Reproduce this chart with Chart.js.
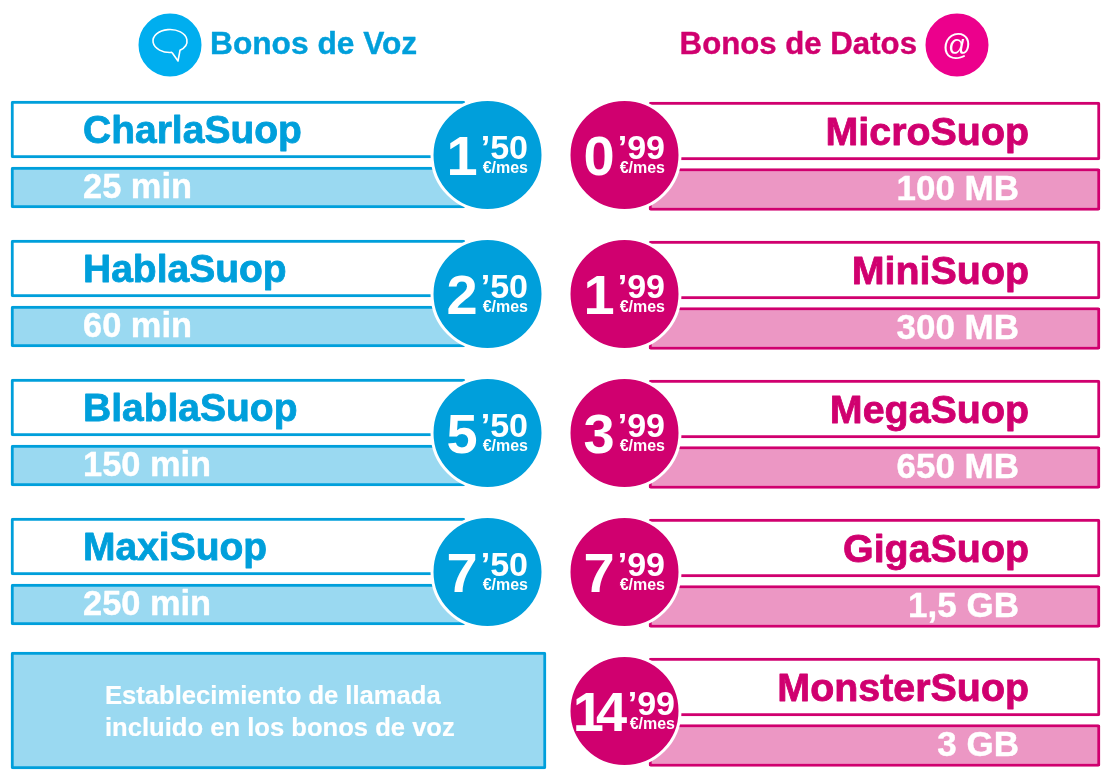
<!DOCTYPE html>
<html lang="es">
<head>
<meta charset="utf-8">
<title>Bonos Suop</title>
<script src="https://cdn.jsdelivr.net/npm/chart.js@4"></script>
<style>
  html, body { margin: 0; padding: 0; background: #fff; }
  canvas { display: block; }
</style>
</head>
<body>
<canvas id="bonos" width="1110" height="780"></canvas>
<script>
// data
const voiceNames = ['CharlaSuop', 'HablaSuop', 'BlablaSuop', 'MaxiSuop'];
const voiceQuotas = ['25 min', '60 min', '150 min', '250 min'];
const voiceEuros = ['1', '2', '5', '7'];
const voiceCents = ['50', '50', '50', '50'];
const voiceRows = [0, 1, 2, 3];

const dataNames = ['MicroSuop', 'MiniSuop', 'MegaSuop', 'GigaSuop', 'MonsterSuop'];
const dataQuotas = ['100 MB', '300 MB', '650 MB', '1,5 GB', '3 GB'];
const dataEuros = ['0', '1', '3', '7', '14'];
const dataCents = ['99', '99', '99', '99', '99'];
const dataRows = [0, 1, 2, 3, 4];

const noteLines = ['Establecimiento de llamada', 'incluido en los bonos de voz'];
const headerVoice = 'Bonos de Voz';
const headerData = 'Bonos de Datos';

// colours
const BLUE = '#009fdb', BLUE_HEAD = '#00aeef', BLUE_LIGHT = '#9ad9f1';
const PINK = '#d0006f', PINK_HEAD = '#ec008c', PINK_LIGHT = '#ec97c4';
const FONT = '"Liberation Sans", Arial, sans-serif';

// layout: y axis runs in rows, one row is 139px and row 0 sits on y=155
const ROW = 139;
const px = d => d / ROW;
const offsets = { voiceName: px(-25.5), voiceQuota: px(32.5), dataName: px(-24), dataQuota: px(34.5), note: px(-0.5) };
const headerRow = px(45 - 155);

function bars(rows, from, to, offset, thickness, fill, line) {
  return {
    type: 'bar', indexAxis: 'y', grouped: false, order: 2,
    data: rows.map(r => ({ x: [from, to], y: r + offset })),
    barThickness: thickness,
    backgroundColor: fill, borderColor: line, borderWidth: 3,
    borderSkipped: false, borderRadius: 2
  };
}

function dots(rows, cx, radius, fill, ring) {
  return {
    type: 'scatter', order: 1, clip: false,
    data: rows.map(r => ({ x: cx, y: r })),
    pointRadius: radius, pointHoverRadius: radius,
    pointBackgroundColor: fill, pointBorderColor: ring, pointBorderWidth: 3
  };
}

// text and the two header icons go on top of the marks
function put(ctx, text, x, y, font, color, align, halo) {
  ctx.font = font;
  ctx.textAlign = align || 'left';
  ctx.textBaseline = 'alphabetic';
  ctx.fillStyle = color;
  if (halo) {
    ctx.strokeStyle = color;
    ctx.lineWidth = halo;
    ctx.lineJoin = 'round';
    ctx.strokeText(text, x, y);
  }
  ctx.fillText(text, x, y);
}

function drawPrice(ctx, euros, cents, right, cy) {
  const wide = euros.length > 1;
  const end = wide ? right + 10 : right;
  ctx.letterSpacing = wide ? '-8px' : '0px';
  put(ctx, euros, wide ? right - 69 : right - 66, cy + 20, 'bold 56px ' + FONT, '#fff', 'center');
  ctx.letterSpacing = '0px';
  put(ctx, '’' + cents, end, cy + 4, 'bold 34px ' + FONT, '#fff', 'right');
  put(ctx, '€/mes', end, cy + 18, 'bold 16px ' + FONT, '#fff', 'right');
}

const labelsPlugin = {
  id: 'labels',
  afterDatasetsDraw(chart) {
    const { ctx, scales: { x, y } } = chart;
    ctx.save();

    voiceRows.forEach(r => {
      const cy = y.getPixelForValue(r);
      const left = x.getPixelForValue(83);
      put(ctx, voiceNames[r], left, cy - 12, 'bold 39px ' + FONT, BLUE, 'left', 0.8);
      put(ctx, voiceQuotas[r], left, cy + 43, 'bold 34.4px ' + FONT, '#fff', 'left', 0.4);
      drawPrice(ctx, voiceEuros[r], voiceCents[r], x.getPixelForValue(528), cy);
    });

    dataRows.forEach(r => {
      const cy = y.getPixelForValue(r);
      put(ctx, dataNames[r], x.getPixelForValue(1029), cy - 10, 'bold 39.4px ' + FONT, PINK, 'right', 0.8);
      put(ctx, dataQuotas[r], x.getPixelForValue(1019), cy + 45, 'bold 35px ' + FONT, '#fff', 'right', 0.4);
      drawPrice(ctx, dataEuros[r], dataCents[r], x.getPixelForValue(665), cy);
    });

    const noteY = y.getPixelForValue(4);
    noteLines.forEach((line, i) => {
      put(ctx, line, x.getPixelForValue(105), noteY - 7 + i * 32, 'bold 25.6px ' + FONT, '#fff', 'left', 0.2);
    });

    const headY = y.getPixelForValue(headerRow);
    put(ctx, headerVoice, x.getPixelForValue(210), headY + 9, 'bold 31.7px ' + FONT, BLUE, 'left', 0.4);
    put(ctx, headerData, x.getPixelForValue(917), headY + 9, 'bold 31.2px ' + FONT, PINK, 'right', 0.4);
    put(ctx, '@', x.getPixelForValue(957), headY + 10, '29px ' + FONT, '#fff', 'center');

    // speech bubble
    const bx = x.getPixelForValue(170), by = headY - 4;
    ctx.strokeStyle = '#fff';
    ctx.lineWidth = 1.6;
    ctx.lineJoin = 'round';
    ctx.beginPath();
    ctx.ellipse(bx, by, 17, 11.5, 0, Math.PI * 0.46, Math.PI * 2.3);
    ctx.lineTo(bx + 8, by + 20);
    ctx.lineTo(bx + 2, by + 11.5);
    ctx.stroke();

    ctx.restore();
  }
};

new Chart(document.getElementById('bonos'), {
  data: {
    datasets: [
      dots(voiceRows, 487.5, 55.5, BLUE, '#fff'),
      dots(dataRows, 624.5, 55.5, PINK, '#fff'),
      dots([headerRow], 170, 30, BLUE_HEAD, BLUE_HEAD),
      dots([headerRow], 957, 30, PINK_HEAD, PINK_HEAD),
      bars(voiceRows, 11, 465, offsets.voiceName, 57, '#fff', BLUE),
      bars(voiceRows, 11, 465, offsets.voiceQuota, 41, BLUE_LIGHT, BLUE),
      bars(dataRows, 649, 1100, offsets.dataName, 58, '#fff', PINK),
      bars(dataRows, 649, 1100, offsets.dataQuota, 42, PINK_LIGHT, PINK),
      bars([4], 11, 546, offsets.note, 117, BLUE_LIGHT, BLUE)
    ]
  },
  options: {
    responsive: false,
    animation: false,
    events: [],
    layout: { padding: 0, autoPadding: false },
    plugins: { legend: { display: false }, tooltip: { enabled: false } },
    scales: {
      x: { type: 'linear', offset: false, min: 0, max: 1110, display: false },
      y: { type: 'linear', offset: false, reverse: true, min: px(-155), max: px(625), display: false }
    }
  },
  plugins: [labelsPlugin]
});
</script>
</body>
</html>
